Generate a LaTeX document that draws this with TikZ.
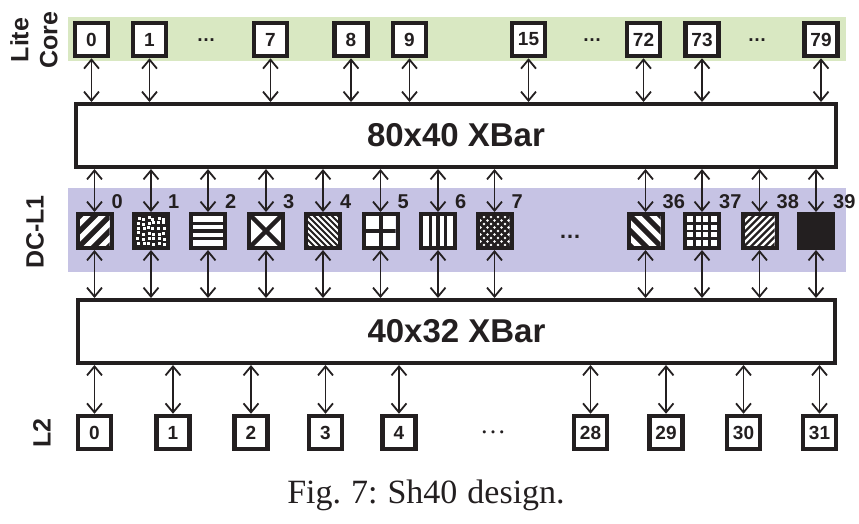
\documentclass[tikz,border=0pt]{standalone}
\usepackage{fontspec}
\setmainfont{Liberation Serif}
\setsansfont{Liberation Sans}
\usetikzlibrary{arrows.meta,calc}
\definecolor{lcgreen}{RGB}{217,232,194}
\definecolor{dcpurple}{RGB}{198,195,228}
\definecolor{ink}{RGB}{35,31,32}
\newcommand\patclip{\clip (-15,-15) rectangle (15,15);}
\begin{document}
\begin{tikzpicture}[x=1pt,y=-1pt,
  corebox/.style={draw=ink, line width=4.5pt, fill=white, minimum size=33pt, inner sep=0pt, font=\sffamily\bfseries\fontsize{19}{19}\selectfont, text=ink},
  patbox/.style={draw=ink, line width=4pt, minimum size=34pt, inner sep=0pt},
  xbar/.style={draw=ink, line width=4pt, fill=white, minimum width=760pt, minimum height=63pt, inner sep=0pt, font=\sffamily\bfseries\fontsize{33}{33}\selectfont, text=ink},
  link/.style={draw=ink, line width=1.8pt, {Straight Barb[length=9pt,width=15pt]}-{Straight Barb[length=9pt,width=15pt]}},
  numlab/.style={font=\sffamily\bfseries\fontsize{20}{20}\selectfont, text=ink, inner sep=0pt, anchor=base west},
  sidelab/.style={font=\sffamily\bfseries\fontsize{25}{29}\selectfont, text=ink, rotate=90, align=center, inner sep=0pt},
  dotslab/.style={font=\sffamily\bfseries\fontsize{19}{19}\selectfont, text=ink, inner sep=0pt},
]
\useasboundingbox (0,0) rectangle (859,523);
% bands
\fill[lcgreen] (68,17) rectangle (846,61);
\fill[dcpurple] (68,188) rectangle (846,272);

% side labels
\node[sidelab] (lc) at (34,40) {Lite\\Core};
\node[sidelab] (dcl) at (35,232) {DC-L1};
\node[sidelab] (l2lab) at (42,433) {L2};

% lite cores
\node[corebox] (c0) at (91.5,39.5) {0};
\node[corebox] (c1) at (149.5,39.5) {1};
\node[corebox] (c7) at (270.5,39.5) {7};
\node[corebox] (c8) at (351,39.5) {8};
\node[corebox] (c9) at (409.5,39.5) {9};
\node[corebox] (c15) at (528.5,39.5) {15};
\node[corebox] (c72) at (643.5,39.5) {72};
\node[corebox] (c73) at (702,39.5) {73};
\node[corebox] (c79) at (821,39.5) {79};
\node[dotslab] (cdA) at (206,40) {\dots};
\node[dotslab] (cdB) at (592,40) {\dots};
\node[dotslab] (cdC) at (757,40) {\dots};

% crossbars
\node[xbar] (xb1) at (456,135.5) {80x40 XBar};
\node[xbar, minimum width=757pt] (xb2) at (456.5,331.5) {40x32 XBar};

% DC-L1 boxes
\node[patbox] (d0) at (94.5,231) {};
\node[patbox] (d1) at (151,231) {};
\node[patbox] (d2) at (208,231) {};
\node[patbox] (d3) at (266,231) {};
\node[patbox] (d4) at (323,231) {};
\node[patbox] (d5) at (380.5,231) {};
\node[patbox] (d6) at (438,231) {};
\node[patbox] (d7) at (494.5,231) {};
\node[patbox] (d36) at (645.5,231) {};
\node[patbox] (d37) at (702,231) {};
\node[patbox] (d38) at (759.5,231) {};
\node[patbox] (d39) at (816,231) {};
\node[dotslab, font=\sffamily\bfseries\fontsize{22}{22}\selectfont] (ddA) at (570,237) {\dots};

% patterns
\begin{scope}[shift={(d0.center)}]\patclip
 \fill[white] (-15,-15) rectangle (15,15);
 \foreach \c in {-30,-15,0,15,30} \draw[ink,line width=5.3pt] (\c-40,40) -- (\c+40,-40);
\end{scope}
\begin{scope}[shift={(d1.center)}]\patclip
 \fill[ink] (-15,-15) rectangle (15,15);
 \pgfmathsetseed{11}
 \foreach \i in {0,...,5} \foreach \j in {0,...,5} {
   \pgfmathsetmacro\dx{1.1*rand}\pgfmathsetmacro\dy{1.1*rand}
   \fill[white] ({-14+\i*5+\dx},{-14+\j*5+\dy}) rectangle +(3,3);}
\end{scope}
\begin{scope}[shift={(d2.center)}]\patclip
 \fill[white] (-15,-15) rectangle (15,15);
 \foreach \c in {-7.5,0,7.5} \draw[ink,line width=3.5pt] (-16,\c) -- (16,\c);
\end{scope}
\begin{scope}[shift={(d3.center)}]\patclip
 \fill[white] (-15,-15) rectangle (15,15);
 \draw[ink,line width=4.5pt] (-16,-16) -- (16,16) (-16,16) -- (16,-16);
\end{scope}
\begin{scope}[shift={(d4.center)}]\patclip
 \fill[white] (-15,-15) rectangle (15,15);
 \foreach \c in {-36,-30,...,36} \draw[ink,line width=2pt] (\c-40,-40) -- (\c+40,40);
\end{scope}
\begin{scope}[shift={(d5.center)}]\patclip
 \fill[white] (-15,-15) rectangle (15,15);
 \draw[ink,line width=4pt] (-16,0) -- (16,0) (0,-16) -- (0,16);
\end{scope}
\begin{scope}[shift={(d6.center)}]\patclip
 \fill[white] (-15,-15) rectangle (15,15);
 \foreach \c in {-7.5,0,7.5} \draw[ink,line width=3.5pt] (\c,-16) -- (\c,16);
\end{scope}
\begin{scope}[shift={(d7.center)}]\patclip
 \fill[white] (-15,-15) rectangle (15,15);
 \foreach \c in {-42,-35,...,42} {\draw[ink,line width=2.6pt] (\c-40,-40) -- (\c+40,40); \draw[ink,line width=2.6pt] (\c-40,40) -- (\c+40,-40);}
\end{scope}
\begin{scope}[shift={(d36.center)}]\patclip
 \fill[white] (-15,-15) rectangle (15,15);
 \foreach \c in {-30,-15,0,15,30} \draw[ink,line width=5.3pt] (\c-40,-40) -- (\c+40,40);
\end{scope}
\begin{scope}[shift={(d37.center)}]\patclip
 \fill[white] (-15,-15) rectangle (15,15);
 \foreach \c in {-7.5,0,7.5} {\draw[ink,line width=2.3pt] (-16,\c) -- (16,\c); \draw[ink,line width=2.3pt] (\c,-16) -- (\c,16);}
\end{scope}
\begin{scope}[shift={(d38.center)}]\patclip
 \fill[white] (-15,-15) rectangle (15,15);
 \foreach \c in {-35,-28,...,35} \draw[ink,line width=2.2pt] (\c-40,40) -- (\c+40,-40);
\end{scope}
\begin{scope}[shift={(d39.center)}]\patclip
 \fill[ink] (-15,-15) rectangle (15,15);
\end{scope}

% DC-L1 labels
\foreach \n/\t in {d0/0,d1/1,d2/2,d3/3,d4/4,d5/5,d6/6,d7/7,d36/36,d37/37,d38/38,d39/39}
  \node[numlab] (lab\n) at ($(\n.north east)+(-2,-4)$) {\t};

% L2 banks
\node[corebox] (l0) at (94.5,432.5) {0};
\node[corebox] (l1) at (173,432.5) {1};
\node[corebox] (l2) at (251,432.5) {2};
\node[corebox] (l3) at (325.5,432.5) {3};
\node[corebox] (l4) at (399,432.5) {4};
\node[corebox] (l28) at (590.5,432.5) {28};
\node[corebox] (l29) at (666,432.5) {29};
\node[corebox] (l30) at (743.5,432.5) {30};
\node[corebox] (l31) at (819.5,432.5) {31};
\node[font=\rmfamily\fontsize{26}{26}\selectfont, text=ink, inner sep=0pt] (ldA) at (493,432) {\dots};

% links
\foreach \n in {c0,c1,c7,c8,c9,c15,c72,c73,c79}
  \draw[link] (\n.south) -- (\n.south |- xb1.north);
\foreach \n in {d0,d1,d2,d3,d4,d5,d6,d7,d36,d37,d38,d39} {
  \draw[link] (\n.north |- xb1.south) -- (\n.north);
  \draw[link] (\n.south) -- (\n.south |- xb2.north);}
\foreach \n in {l0,l1,l2,l3,l4,l28,l29,l30,l31}
  \draw[link] (\n.north |- xb2.south) -- (\n.north);

% caption
\node[font=\fontsize{34}{34}\selectfont, text=ink, inner sep=0pt, anchor=base] (cap) at (426,503) {\spaceskip=10pt\relax\xspaceskip=10pt\relax Fig. 7: Sh40 design.};
\end{tikzpicture}
\end{document}
